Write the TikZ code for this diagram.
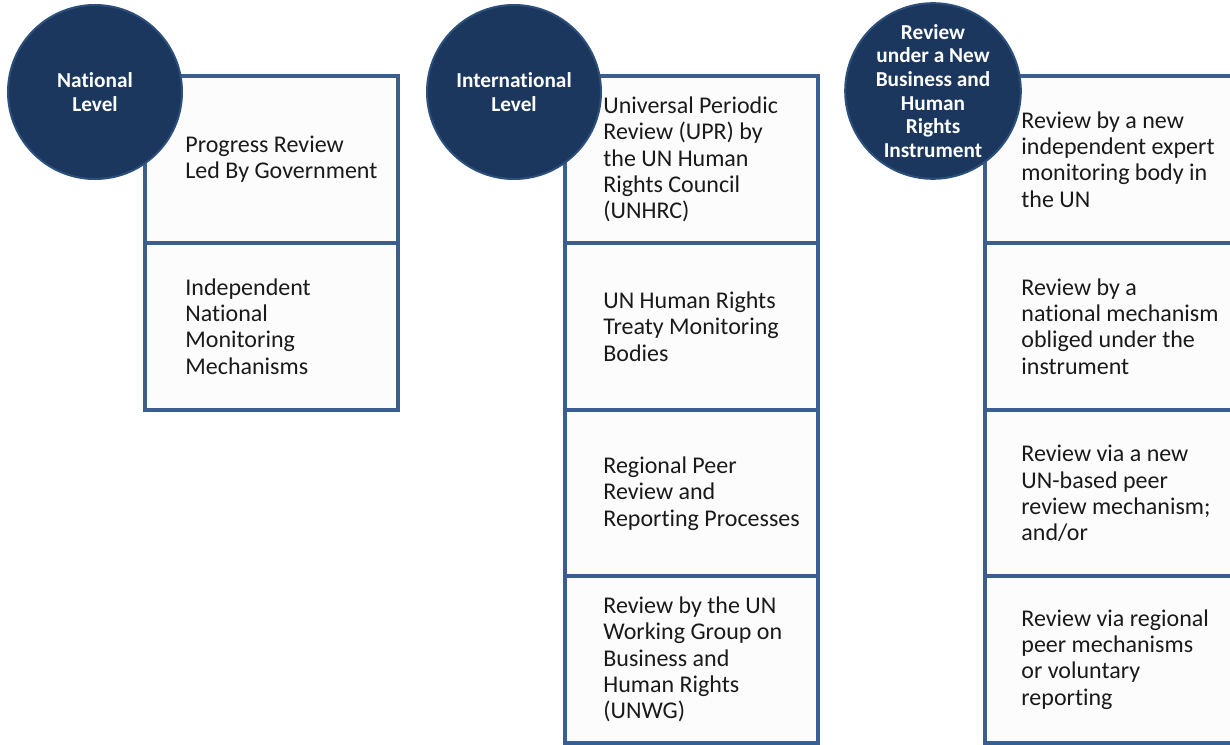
\documentclass[tikz,border=0pt]{standalone}
\usepackage{fontspec}
\setmainfont{Carlito}[Ligatures=NoCommon]
\definecolor{navy}{HTML}{1B375E}
\definecolor{navyedge}{HTML}{2C4F7C}
\definecolor{boxedge}{HTML}{3A5F8E}
\definecolor{boxfill}{HTML}{FCFCFC}
\definecolor{txt}{HTML}{1A1A1A}
\begin{document}
\begin{tikzpicture}[x=1pt,y=-1pt,
  cell/.style={draw=boxedge, fill=boxfill, line width=3.6pt, rectangle,
    minimum width=253pt, minimum height=167pt, inner sep=0pt},
  celltext/.style={anchor=west, align=left, inner sep=0pt, text=txt,
    font=\fontsize{24}{26.3}\selectfont},
  level/.style={circle, fill=navy, draw=navyedge, line width=2pt,
    minimum size=174pt, inner sep=0pt, text=white, align=center,
    font=\bfseries\fontsize{21.3}{23.6}\selectfont}]
\useasboundingbox (0,0) rectangle (1230,744);
\fill[white] (0,0) rectangle (1230,744);
% column 1
\node[cell] (a1) at (271.5,159.5) {};
\node[cell] (a2) at (271.5,326.5) {};
\node[celltext] (a1t) at ([xshift=42pt]a1.west) {Progress Review\\Led By Government};
\node[celltext] (a2t) at ([xshift=42pt]a2.west) {Independent\\National\\Monitoring\\Mechanisms};
\node[level] (c1) at (95,92) {National\\Level};
% column 2
\node[cell] (b1) at (691.5,159.5) {};
\node[cell] (b2) at (691.5,326.5) {};
\node[cell] (b3) at (691.5,493.5) {};
\node[cell] (b4) at (691.5,659.5) {};
\node[celltext] (b1t) at ([xshift=40pt]b1.west) {Universal Periodic\\Review (UPR) by\\the UN Human\\Rights Council\\(UNHRC)};
\node[celltext] (b2t) at ([xshift=40pt]b2.west) {UN Human Rights\\Treaty Monitoring\\Bodies};
\node[celltext] (b3t) at ([xshift=40pt]b3.west) {Regional Peer\\Review and\\Reporting Processes};
\node[celltext] (b4t) at ([xshift=40pt]b4.west) {Review by the UN\\Working Group on\\Business and\\Human Rights\\(UNWG)};
\node[level] (c2) at (514,92) {International\\Level};
% column 3
\node[cell] (d1) at (1111.5,159.5) {};
\node[cell] (d2) at (1111.5,326.5) {};
\node[cell] (d3) at (1111.5,493.5) {};
\node[cell] (d4) at (1111.5,659.5) {};
\node[celltext] (d1t) at ([xshift=38pt]d1.west) {Review by a new\\independent expert\\monitoring body in\\the UN};
\node[celltext] (d2t) at ([xshift=38pt]d2.west) {Review by a\\national mechanism\\obliged under the\\instrument};
\node[celltext] (d3t) at ([xshift=38pt]d3.west) {Review via a new\\UN-based peer\\review mechanism;\\and/or};
\node[celltext] (d4t) at ([xshift=38pt]d4.west) {Review via regional\\peer mechanisms\\or voluntary\\reporting};
\node[level] (c3) at (933,91) {Review\\under a New\\Business and\\Human\\Rights\\Instrument};
\end{tikzpicture}
\end{document}
